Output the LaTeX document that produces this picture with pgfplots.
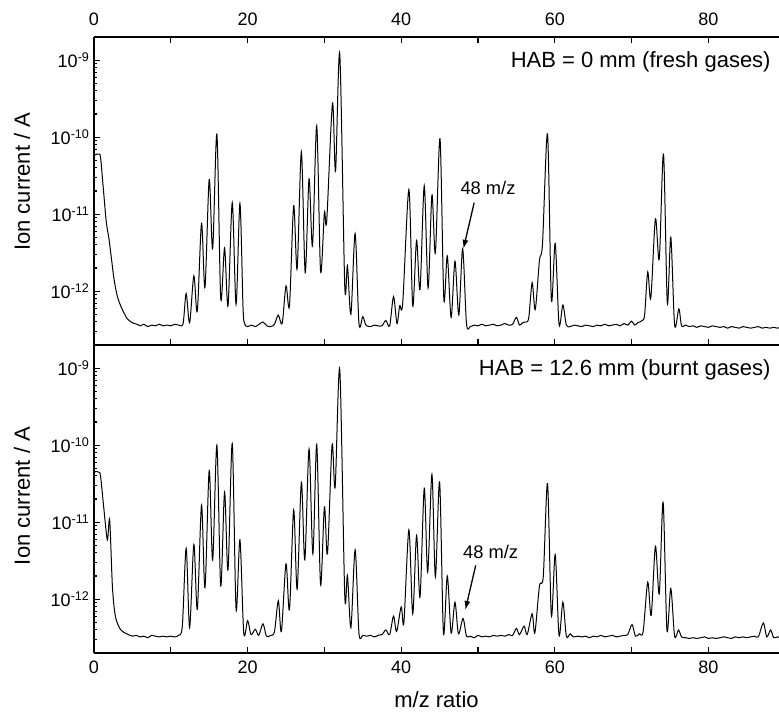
\documentclass[border=0pt]{standalone}
\usepackage{fontspec}
\setmainfont{Liberation Sans}
\usepackage{pgfplots}
\usepackage{pgfplotstable}
\pgfplotsset{compat=1.18}
\usetikzlibrary{arrows.meta}

\pgfplotstableread{
x y
0.0 5.75e-11
0.3 6.03e-11
0.6 6.03e-11
0.85 5.50e-11
1.2 2.24e-11
1.6 7.94e-12
1.95 4.79e-12
2.3 2.51e-12
2.6 1.45e-12
3.0 8.91e-13
3.47 6.46e-13
4.0 5.01e-13
4.34 4.37e-13
5.0 3.89e-13
5.6 3.72e-13
6.0 3.55e-13
6.5 3.72e-13
7.0 3.47e-13
7.5 3.63e-13
8.0 3.55e-13
8.5 3.72e-13
9.0 3.55e-13
9.5 3.63e-13
10.0 3.55e-13
10.5 3.72e-13
11.0 3.63e-13
11.6 3.80e-13
12.0 9.33e-13
12.45 3.89e-13
13.0 1.58e-12
13.45 5.50e-13
14.0 7.59e-12
14.45 1.12e-12
15.0 2.82e-11
15.45 3.55e-12
16.0 1.10e-10
16.5 8.13e-13
17.0 3.63e-12
17.45 6.46e-13
18.0 1.41e-11
18.5 6.76e-13
19.0 1.38e-11
19.4 6.31e-13
19.6 3.80e-13
20.0 3.47e-13
20.5 3.63e-13
21.0 3.47e-13
21.5 3.72e-13
22.0 3.98e-13
22.5 3.55e-13
23.0 3.47e-13
23.5 3.72e-13
24.0 4.90e-13
24.5 3.80e-13
25.0 1.17e-12
25.45 6.46e-13
26.0 1.29e-11
26.45 1.95e-12
27.0 6.46e-11
27.5 1.74e-12
28.0 2.88e-11
28.45 3.89e-12
29.0 1.41e-10
29.5 1.82e-12
30.0 1.05e-11
30.3 8.13e-12
31.05 2.75e-10
31.45 3.63e-11
32.0 1.20e-9
32.65 1.17e-12
33.0 2.14e-12
33.45 5.01e-13
34.0 5.62e-12
34.5 3.80e-13
35.0 4.68e-13
35.4 3.63e-13
36.0 3.47e-13
36.5 3.63e-13
37.0 3.55e-13
37.5 3.55e-13
38.0 4.17e-13
38.5 3.55e-13
39.0 8.51e-13
39.45 3.80e-13
39.8 6.46e-13
40.2 7.08e-13
41.0 2.09e-11
41.5 6.46e-13
42.0 4.57e-12
42.45 1.05e-12
43.0 2.34e-11
43.5 1.10e-12
44.0 1.78e-11
44.45 3.16e-12
45.05 9.55e-11
45.55 7.94e-13
46.0 2.88e-12
46.5 4.57e-13
47.0 2.45e-12
47.5 4.90e-13
48.0 3.55e-12
48.5 3.80e-13
49.0 3.47e-13
49.5 3.63e-13
50.0 3.55e-13
50.5 3.72e-13
51.0 3.55e-13
51.5 3.63e-13
52.0 3.72e-13
52.5 3.55e-13
53.0 3.63e-13
53.5 3.80e-13
54.0 3.63e-13
54.5 3.72e-13
55.0 4.57e-13
55.4 3.63e-13
55.8 3.89e-13
56.2 3.98e-13
56.6 4.47e-13
57.05 1.29e-12
57.45 5.75e-13
58.0 2.51e-12
58.4 4.17e-12
59.05 1.10e-10
59.55 7.76e-13
60.05 4.17e-12
60.55 3.72e-13
61.05 6.61e-13
61.5 3.63e-13
62.0 3.47e-13
62.5 3.63e-13
63.0 3.55e-13
63.5 3.47e-13
64.0 3.63e-13
64.5 3.55e-13
65.0 3.47e-13
65.5 3.63e-13
66.0 3.55e-13
66.5 3.72e-13
67.0 3.55e-13
67.5 3.63e-13
68.0 3.72e-13
68.5 3.55e-13
69.0 3.80e-13
69.5 3.63e-13
70.0 4.07e-13
70.4 3.63e-13
70.8 3.89e-13
71.4 4.17e-13
71.7 5.01e-13
72.1 1.78e-12
72.5 8.13e-13
73.1 8.71e-12
73.6 2.63e-12
74.15 6.03e-11
74.65 7.08e-13
75.1 5.01e-12
75.6 3.63e-13
76.15 5.89e-13
76.5 3.55e-13
77.0 3.63e-13
77.5 3.47e-13
78.0 3.55e-13
78.5 3.39e-13
79.0 3.55e-13
79.5 3.47e-13
80.0 3.39e-13
80.5 3.55e-13
81.0 3.47e-13
81.5 3.39e-13
82.0 3.47e-13
82.5 3.31e-13
83.0 3.47e-13
83.5 3.39e-13
84.0 3.31e-13
84.5 3.47e-13
85.0 3.39e-13
85.5 3.31e-13
86.0 3.39e-13
86.5 3.47e-13
87.0 3.31e-13
87.5 3.39e-13
88.0 3.31e-13
88.5 3.39e-13
89.0 3.31e-13
89.3 3.39e-13
}\fresh

\pgfplotstableread{
x y
0.0 4.37e-11
0.25 4.57e-11
0.6 4.47e-11
0.85 3.98e-11
1.3 1.45e-11
1.74 5.89e-12
2.04 1.07e-11
2.4 1.45e-12
2.8 5.89e-13
3.5 3.98e-13
4.3 3.55e-13
5.0 3.31e-13
5.5 3.39e-13
6.0 3.24e-13
6.5 3.31e-13
7.0 3.16e-13
7.5 3.39e-13
8.0 3.31e-13
8.5 3.24e-13
9.0 3.31e-13
9.5 3.24e-13
10.0 3.31e-13
10.5 3.24e-13
11.0 3.39e-13
11.5 4.47e-13
12.0 4.57e-12
12.45 4.27e-13
13.0 5.13e-12
13.45 7.41e-13
14.0 1.66e-11
14.45 1.41e-12
15.0 4.68e-11
15.45 3.24e-12
16.0 1.00e-10
16.5 1.48e-12
17.0 2.45e-11
17.45 2.40e-12
18.0 1.05e-10
18.5 7.41e-13
19.0 5.89e-12
19.5 3.63e-13
20.0 5.25e-13
20.45 3.47e-13
21.0 4.07e-13
21.45 3.39e-13
22.0 4.79e-13
22.45 3.31e-13
23.0 3.39e-13
23.5 3.80e-13
24.0 9.55e-13
24.4 3.80e-13
25.0 2.88e-12
25.45 7.24e-13
26.0 1.45e-11
26.45 1.35e-12
27.0 3.31e-11
27.45 3.24e-12
28.0 8.91e-11
28.5 3.89e-12
29.0 1.02e-10
29.5 1.55e-12
30.0 1.58e-11
30.4 3.89e-12
31.0 1.02e-10
31.4 2.88e-11
32.0 9.55e-10
32.65 1.12e-12
33.0 2.04e-12
33.45 4.27e-13
34.0 4.37e-12
34.5 3.63e-13
35.0 3.39e-13
35.5 3.31e-13
36.0 3.39e-13
36.5 3.24e-13
37.0 3.39e-13
37.5 3.47e-13
38.0 3.98e-13
38.5 3.47e-13
39.0 6.03e-13
39.4 3.80e-13
40.0 7.94e-13
40.35 5.01e-13
41.0 7.94e-12
41.5 6.46e-13
42.0 6.76e-12
42.45 1.07e-12
43.0 2.75e-11
43.45 2.24e-12
44.0 4.17e-11
44.45 1.95e-12
45.0 3.31e-11
45.5 3.63e-13
46.0 2.00e-12
46.5 3.63e-13
47.0 9.12e-13
47.45 3.55e-13
48.05 5.62e-13
48.5 3.31e-13
49.0 3.31e-13
49.5 3.16e-13
50.0 3.39e-13
50.5 3.24e-13
51.0 3.31e-13
51.5 3.24e-13
52.0 3.39e-13
52.5 3.31e-13
53.0 3.39e-13
53.5 3.31e-13
54.0 3.47e-13
54.5 3.39e-13
55.0 4.17e-13
55.4 3.47e-13
56.0 4.47e-13
56.4 3.47e-13
57.05 6.46e-13
57.4 3.63e-13
58.0 1.48e-12
58.5 2.00e-12
59.05 3.16e-11
59.55 6.17e-13
60.05 3.80e-12
60.55 3.39e-13
61.05 9.12e-13
61.5 3.31e-13
62.0 3.55e-13
62.4 3.24e-13
63.0 3.31e-13
63.5 3.24e-13
64.0 3.31e-13
64.5 3.16e-13
65.0 3.31e-13
65.5 3.24e-13
66.0 3.39e-13
66.5 3.24e-13
67.0 3.31e-13
67.5 3.39e-13
68.0 3.24e-13
68.5 3.31e-13
69.0 3.39e-13
69.5 3.47e-13
70.05 4.68e-13
70.5 3.31e-13
71.0 3.55e-13
71.5 3.80e-13
72.1 1.66e-12
72.55 6.17e-13
73.1 4.90e-12
73.6 1.17e-12
74.1 1.82e-11
74.6 3.98e-13
75.1 1.38e-12
75.6 3.31e-13
76.1 3.98e-13
76.5 3.24e-13
77.0 3.16e-13
77.5 3.09e-13
78.0 3.16e-13
78.5 3.09e-13
79.0 3.16e-13
79.5 3.24e-13
80.0 3.09e-13
80.5 3.16e-13
81.0 3.09e-13
81.5 3.16e-13
82.0 3.24e-13
82.5 3.16e-13
83.0 3.09e-13
83.5 3.24e-13
84.0 3.16e-13
84.5 3.24e-13
85.0 3.16e-13
85.5 3.24e-13
86.0 3.31e-13
86.5 3.24e-13
87.15 4.90e-13
87.6 3.24e-13
88.1 3.98e-13
88.5 3.16e-13
89.0 3.24e-13
89.3 3.16e-13
}\burnt

\pgfplotsset{
  panel/.style={
    scale only axis, width=685pt, height=308pt,
    xmin=0, xmax=89.19, ymin=2e-13, ymax=2e-9,
    axis x line*=box, axis y line*=left,
    axis line style={line width=1.5pt, black},
    tick align=inside,
    xtick={0,10,...,80},
    xticklabels={0,,20,,40,,60,,80},
    ytick={1e-12,1e-11,1e-10,1e-9},
    yticklabels={10\textsuperscript{-12},10\textsuperscript{-11},10\textsuperscript{-10},10\textsuperscript{-9}},
    minor ytick={2e-13,3e-13,4e-13,5e-13,6e-13,7e-13,8e-13,9e-13,
                 2e-12,3e-12,4e-12,5e-12,6e-12,7e-12,8e-12,9e-12,
                 2e-11,3e-11,4e-11,5e-11,6e-11,7e-11,8e-11,9e-11,
                 2e-10,3e-10,4e-10,5e-10,6e-10,7e-10,8e-10,9e-10,2e-9},
    ytick pos=left,
    major tick length=6pt, minor tick length=3.5pt,
    tick style={line width=1.2pt, black},
    tick label style={font=\fontsize{18}{20}\selectfont},
    yticklabel style={xshift=-1pt},
    ylabel={Ion current / A},
  }
}

\begin{document}
\begin{tikzpicture}
\useasboundingbox (-94pt,-60pt) rectangle (685pt,653pt);
% bottom panel
\begin{semilogyaxis}[panel, at={(0pt,0pt)}, anchor=south west,
  xtick pos=bottom,
  xticklabel style={yshift=-4pt},
  ylabel style={font=\fontsize{22}{24}\selectfont, at={(axis description cs:-0.105,0.51)}, anchor=center},
  xlabel={m/z ratio},
  xlabel style={font=\fontsize{22}{24}\selectfont, at={(axis description cs:0.5,0)}, anchor=center, yshift=-47pt}]
\addplot[black, line width=1pt, smooth, tension=0.5] table[x=x,y=y] {\burnt};
\node[anchor=east, inner sep=0pt, font=\fontsize{22}{24}\selectfont] at (rel axis cs:0.988,0.92) {HAB = 12.6 mm (burnt gases)};
\node[inner sep=0pt, font=\fontsize{18.3}{20}\selectfont] at (axis cs:51.65,4.07e-12) {48 m/z};
\draw[line width=1.3pt, -{Latex[length=9pt,width=6pt]}] (axis cs:49.7,2.75e-12) -- (axis cs:48.35,7.24e-13);
\end{semilogyaxis}
% top panel
\begin{semilogyaxis}[panel, at={(0pt,308pt)}, anchor=south west,
  xtick pos=both, xticklabel pos=top,
  xticklabel style={yshift=8pt},
  ylabel style={font=\fontsize{22}{24}\selectfont, at={(axis description cs:-0.105,0.53)}, anchor=center}]
\addplot[black, line width=1pt, smooth, tension=0.5] table[x=x,y=y] {\fresh};
\node[anchor=east, inner sep=0pt, font=\fontsize{22}{24}\selectfont] at (rel axis cs:0.988,0.92) {HAB = 0 mm (fresh gases)};
\node[inner sep=0pt, font=\fontsize{18.3}{20}\selectfont] at (axis cs:51.3,2.2e-11) {48 m/z};
\draw[line width=1.3pt, -{Latex[length=9pt,width=6pt]}] (axis cs:49.5,1.41e-11) -- (axis cs:48.1,3.55e-12);
\end{semilogyaxis}
\end{tikzpicture}
\end{document}
